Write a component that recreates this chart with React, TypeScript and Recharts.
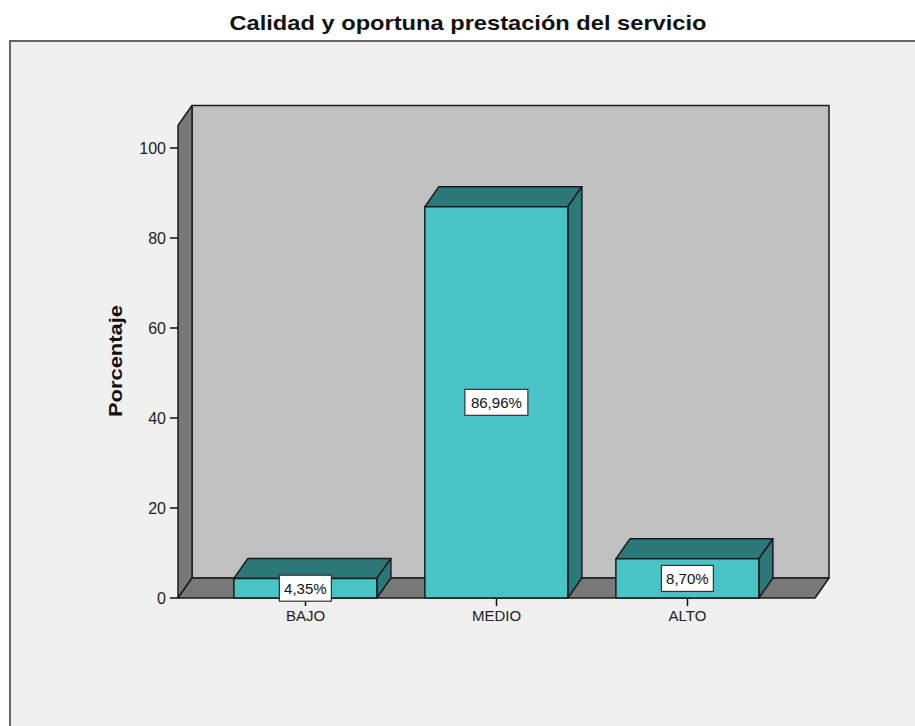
import { BarChart, Bar, XAxis, YAxis, ReferenceArea, LabelList, Label } from "recharts";

const categories = ["BAJO", "MEDIO", "ALTO"];
const percentages = [4.35, 86.96, 8.7];
const valueLabels = ["4,35%", "86,96%", "8,70%"];
const yTicks = [0, 20, 40, 60, 80, 100];

const data = categories.map((name, i) => ({
    name,
    value: percentages[i],
    label: valueLabels[i],
}));

// depth of the fake 3D box
const DX = 14;
const DY = -20;
// category axis padding (walls span the whole plot, not only the padded range)
const PAD = 32;

const FRONT = "#48C3C6";
const DARK = "#2C7777";
const WALL = "#C0C0C0";
const FLOOR = "#787878";

const font = "'Liberation Sans', Arial, sans-serif";

const Walls = (props: any) => {
    const { y, height } = props;
    const x = props.x - PAD;
    const width = props.width + PAD * 2;
    const bottom = y + height;
    const right = x + width;
    return (
        <g stroke="#1a1a1a" strokeWidth={1.5} strokeLinejoin="round">
            <rect x={x + DX} y={y + DY} width={width} height={height} fill={WALL} />
            <polygon
                points={`${x},${y} ${x + DX},${y + DY} ${x + DX},${bottom + DY} ${x},${bottom}`}
                fill={FLOOR}
            />
            <polygon
                points={`${x},${bottom} ${x + DX},${bottom + DY} ${right + DX},${bottom + DY} ${right},${bottom}`}
                fill={FLOOR}
            />
        </g>
    );
};

const Box = (props: any) => {
    const { x, y, width, height } = props;
    if (!height) return null;
    const r = x + width;
    const b = y + height;
    return (
        <g stroke="#1a1a1a" strokeWidth={1.5} strokeLinejoin="round">
            <polygon
                points={`${x},${y} ${x + DX},${y + DY} ${r + DX},${y + DY} ${r},${y}`}
                fill={DARK}
            />
            <polygon
                points={`${r},${y} ${r + DX},${y + DY} ${r + DX},${b + DY} ${r},${b}`}
                fill={DARK}
            />
            <rect x={x} y={y} width={width} height={height} fill={FRONT} />
        </g>
    );
};

const ValueBox = (props: any) => {
    const { x, y, width, height, value } = props;
    const cx = x + width / 2;
    const cy = y + height / 2;
    const w = String(value).length * 11 - 3;
    return (
        <g>
            <rect
                x={cx - w / 2}
                y={cy - 13}
                width={w}
                height={26}
                fill="#ffffff"
                stroke="#333"
                strokeWidth={1.2}
            />
            <text
                x={cx}
                y={cy + 5.5}
                textAnchor="middle"
                fontSize={15}
                fontFamily={font}
                fill="#111"
            >
                {value}
            </text>
        </g>
    );
};

export default function App() {
    return (
        <div
            style={{
                position: "absolute",
                left: 0,
                top: 0,
                width: 915,
                height: 726,
                overflow: "hidden",
                background: "#ffffff",
            }}
        >
            <div
                style={{
                    position: "absolute",
                    left: 9,
                    top: 40,
                    width: 1000,
                    height: 800,
                    background: "#F0F0F0",
                    borderTop: "2px solid #666",
                    borderLeft: "2px solid #666",
                }}
            />
            <svg
                width={915}
                height={40}
                style={{ position: "absolute", left: 0, top: 0 }}
            >
                <text
                    x={468}
                    y={30}
                    textAnchor="middle"
                    fontSize={21}
                    fontWeight="bold"
                    fontFamily={font}
                    fill="#111"
                    textLength={477}
                    lengthAdjust="spacingAndGlyphs"
                >
                    Calidad y oportuna prestación del servicio
                </text>
            </svg>
            <div style={{ position: "absolute", left: 0, top: 0 }}>
                <BarChart
                    width={915}
                    height={726}
                    data={data}
                    margin={{ top: 125.5, right: 100, bottom: 88, left: 60 }}
                    barCategoryGap="12.5%"
                >
                    <ReferenceArea y1={0} y2={105} shape={<Walls />} ifOverflow="visible" />
                    <XAxis
                        dataKey="name"
                        axisLine={false}
                        tickLine={{ stroke: "#111", strokeWidth: 1.5 }}
                        tickSize={8}
                        tickMargin={4}
                        padding={{ left: PAD, right: PAD }}
                        tick={{ fill: "#222", fontSize: 15, fontFamily: font }}
                        height={40}
                    />
                    <YAxis
                        type="number"
                        domain={[0, 105]}
                        ticks={yTicks}
                        width={118}
                        axisLine={false}
                        tickLine={{ stroke: "#111", strokeWidth: 1.5 }}
                        tickSize={8}
                        tickMargin={4}
                        tick={{ fill: "#222", fontSize: 16, fontFamily: font }}
                    >
                        <Label
                            content={(p: any) => {
                                const vb = p.viewBox;
                                const cx = vb.x + 55;
                                const cy = 361;
                                return (
                                    <text
                                        x={cx}
                                        y={cy}
                                        transform={`rotate(-90 ${cx} ${cy})`}
                                        textAnchor="middle"
                                        dominantBaseline="central"
                                        fontSize={19}
                                        fontWeight="bold"
                                        fontFamily={font}
                                        fill="#111"
                                        textLength={112}
                                        lengthAdjust="spacingAndGlyphs"
                                    >
                                        Porcentaje
                                    </text>
                                );
                            }}
                        />
                    </YAxis>
                    <Bar dataKey="value" shape={<Box />} isAnimationActive={false}>
                        <LabelList dataKey="label" content={<ValueBox />} />
                    </Bar>
                </BarChart>
            </div>
        </div>
    );
}
